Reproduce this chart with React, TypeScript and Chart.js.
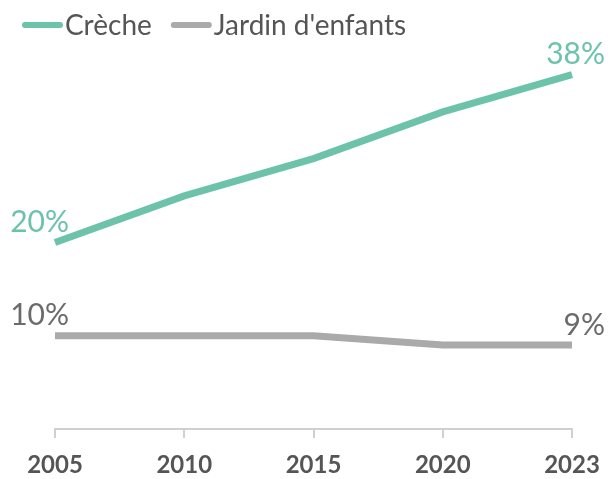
import React, { useEffect, useRef } from "react";
import { Chart, registerables } from "chart.js";

Chart.register(...registerables);

const years = ["2005", "2010", "2015", "2020", "2023"];
const crecheValues = [20, 25, 29, 34, 38];
const jardinValues = [10, 10, 10, 9, 9];
const seriesNames = ["Crèche", "Jardin d'enfants"];
const seriesColors = ["#6cc3aa", "#aaaaaa"];
const labelColors = ["#6cc3aa", "#6b6b6b"];

const FONT = "Lato, 'Noto Sans', sans-serif";

const legendPlugin = {
  id: "customLegend",
  afterDraw(chart: any) {
    const ctx = chart.ctx;
    ctx.save();
    ctx.font = `28px ${FONT}`;
    ctx.textBaseline = "middle";
    ctx.textAlign = "left";
    let x = 22;
    const y = 25;
    chart.data.datasets.forEach((ds: any) => {
      ctx.strokeStyle = ds.borderColor;
      ctx.lineWidth = 6;
      ctx.lineCap = "round";
      ctx.beginPath();
      ctx.moveTo(x + 3, y);
      ctx.lineTo(x + 38, y);
      ctx.stroke();
      ctx.fillStyle = "#555555";
      ctx.fillText(ds.label, x + 43, y + 1);
      x = x + 43 + ctx.measureText(ds.label).width + 19;
    });
    ctx.restore();
  },
};

const endLabelPlugin = {
  id: "endLabels",
  afterDatasetsDraw(chart: any) {
    const ctx = chart.ctx;
    ctx.save();
    ctx.font = `30px ${FONT}`;
    ctx.textBaseline = "middle";
    chart.data.datasets.forEach((ds: any, i: number) => {
      const meta = chart.getDatasetMeta(i);
      const n = ds.data.length;
      ctx.fillStyle = labelColors[i];
      const first = meta.data[0];
      const last = meta.data[n - 1];
      ctx.textAlign = "right";
      ctx.fillText(ds.data[0] + "%", first.x + 14, first.y - 20);
      ctx.fillText(ds.data[n - 1] + "%", last.x + 33, last.y - 20);
    });
    ctx.restore();
  },
};

export default function App() {
  const ref = useRef<HTMLCanvasElement>(null);
  useEffect(() => {
    if (!ref.current) return;
    const chart = new Chart(ref.current, {
      type: "line",
      data: {
        labels: years,
        datasets: [
          {
            label: seriesNames[0],
            data: crecheValues,
            borderColor: seriesColors[0],
            backgroundColor: seriesColors[0],
            borderWidth: 7,
            pointRadius: 0,
            tension: 0,
            borderCapStyle: "butt",
          },
          {
            label: seriesNames[1],
            data: jardinValues,
            borderColor: seriesColors[1],
            backgroundColor: seriesColors[1],
            borderWidth: 7,
            pointRadius: 0,
            tension: 0,
            borderCapStyle: "butt",
          },
        ],
      },
      options: {
        animation: false,
        responsive: false,
        maintainAspectRatio: false,
        clip: false as any,
        layout: { padding: { left: 55, right: 36, top: 56, bottom: 0 } },
        plugins: { legend: { display: false }, tooltip: { enabled: false } },
        scales: {
          x: {
            offset: false,
            afterFit: (scale: any) => {
              scale.height = 50;
              scale.paddingLeft = 0;
              scale.paddingRight = 0;
            },
            border: { display: true, color: "#d0d0d0", width: 2 },
            grid: {
              display: true,
              drawOnChartArea: false,
              drawTicks: true,
              tickLength: 9,
              color: "#d0d0d0",
              lineWidth: 2,
            },
            ticks: {
              color: "#555555",
              font: { family: FONT, size: 24, weight: "bold", lineHeight: 1 },
              padding: 15,
              maxRotation: 0,
              autoSkip: false,
            },
          },
          y: {
            display: false,
            min: 0,
            max: 40,
          },
        },
      },
      plugins: [legendPlugin, endLabelPlugin],
    });
    return () => chart.destroy();
  }, []);
  return (
    <div style={{ position: "fixed", left: 0, top: 0, width: 608, height: 479, background: "#fff" }}>
      <canvas ref={ref} width={608} height={479} style={{ width: 608, height: 479 }} />
    </div>
  );
}
